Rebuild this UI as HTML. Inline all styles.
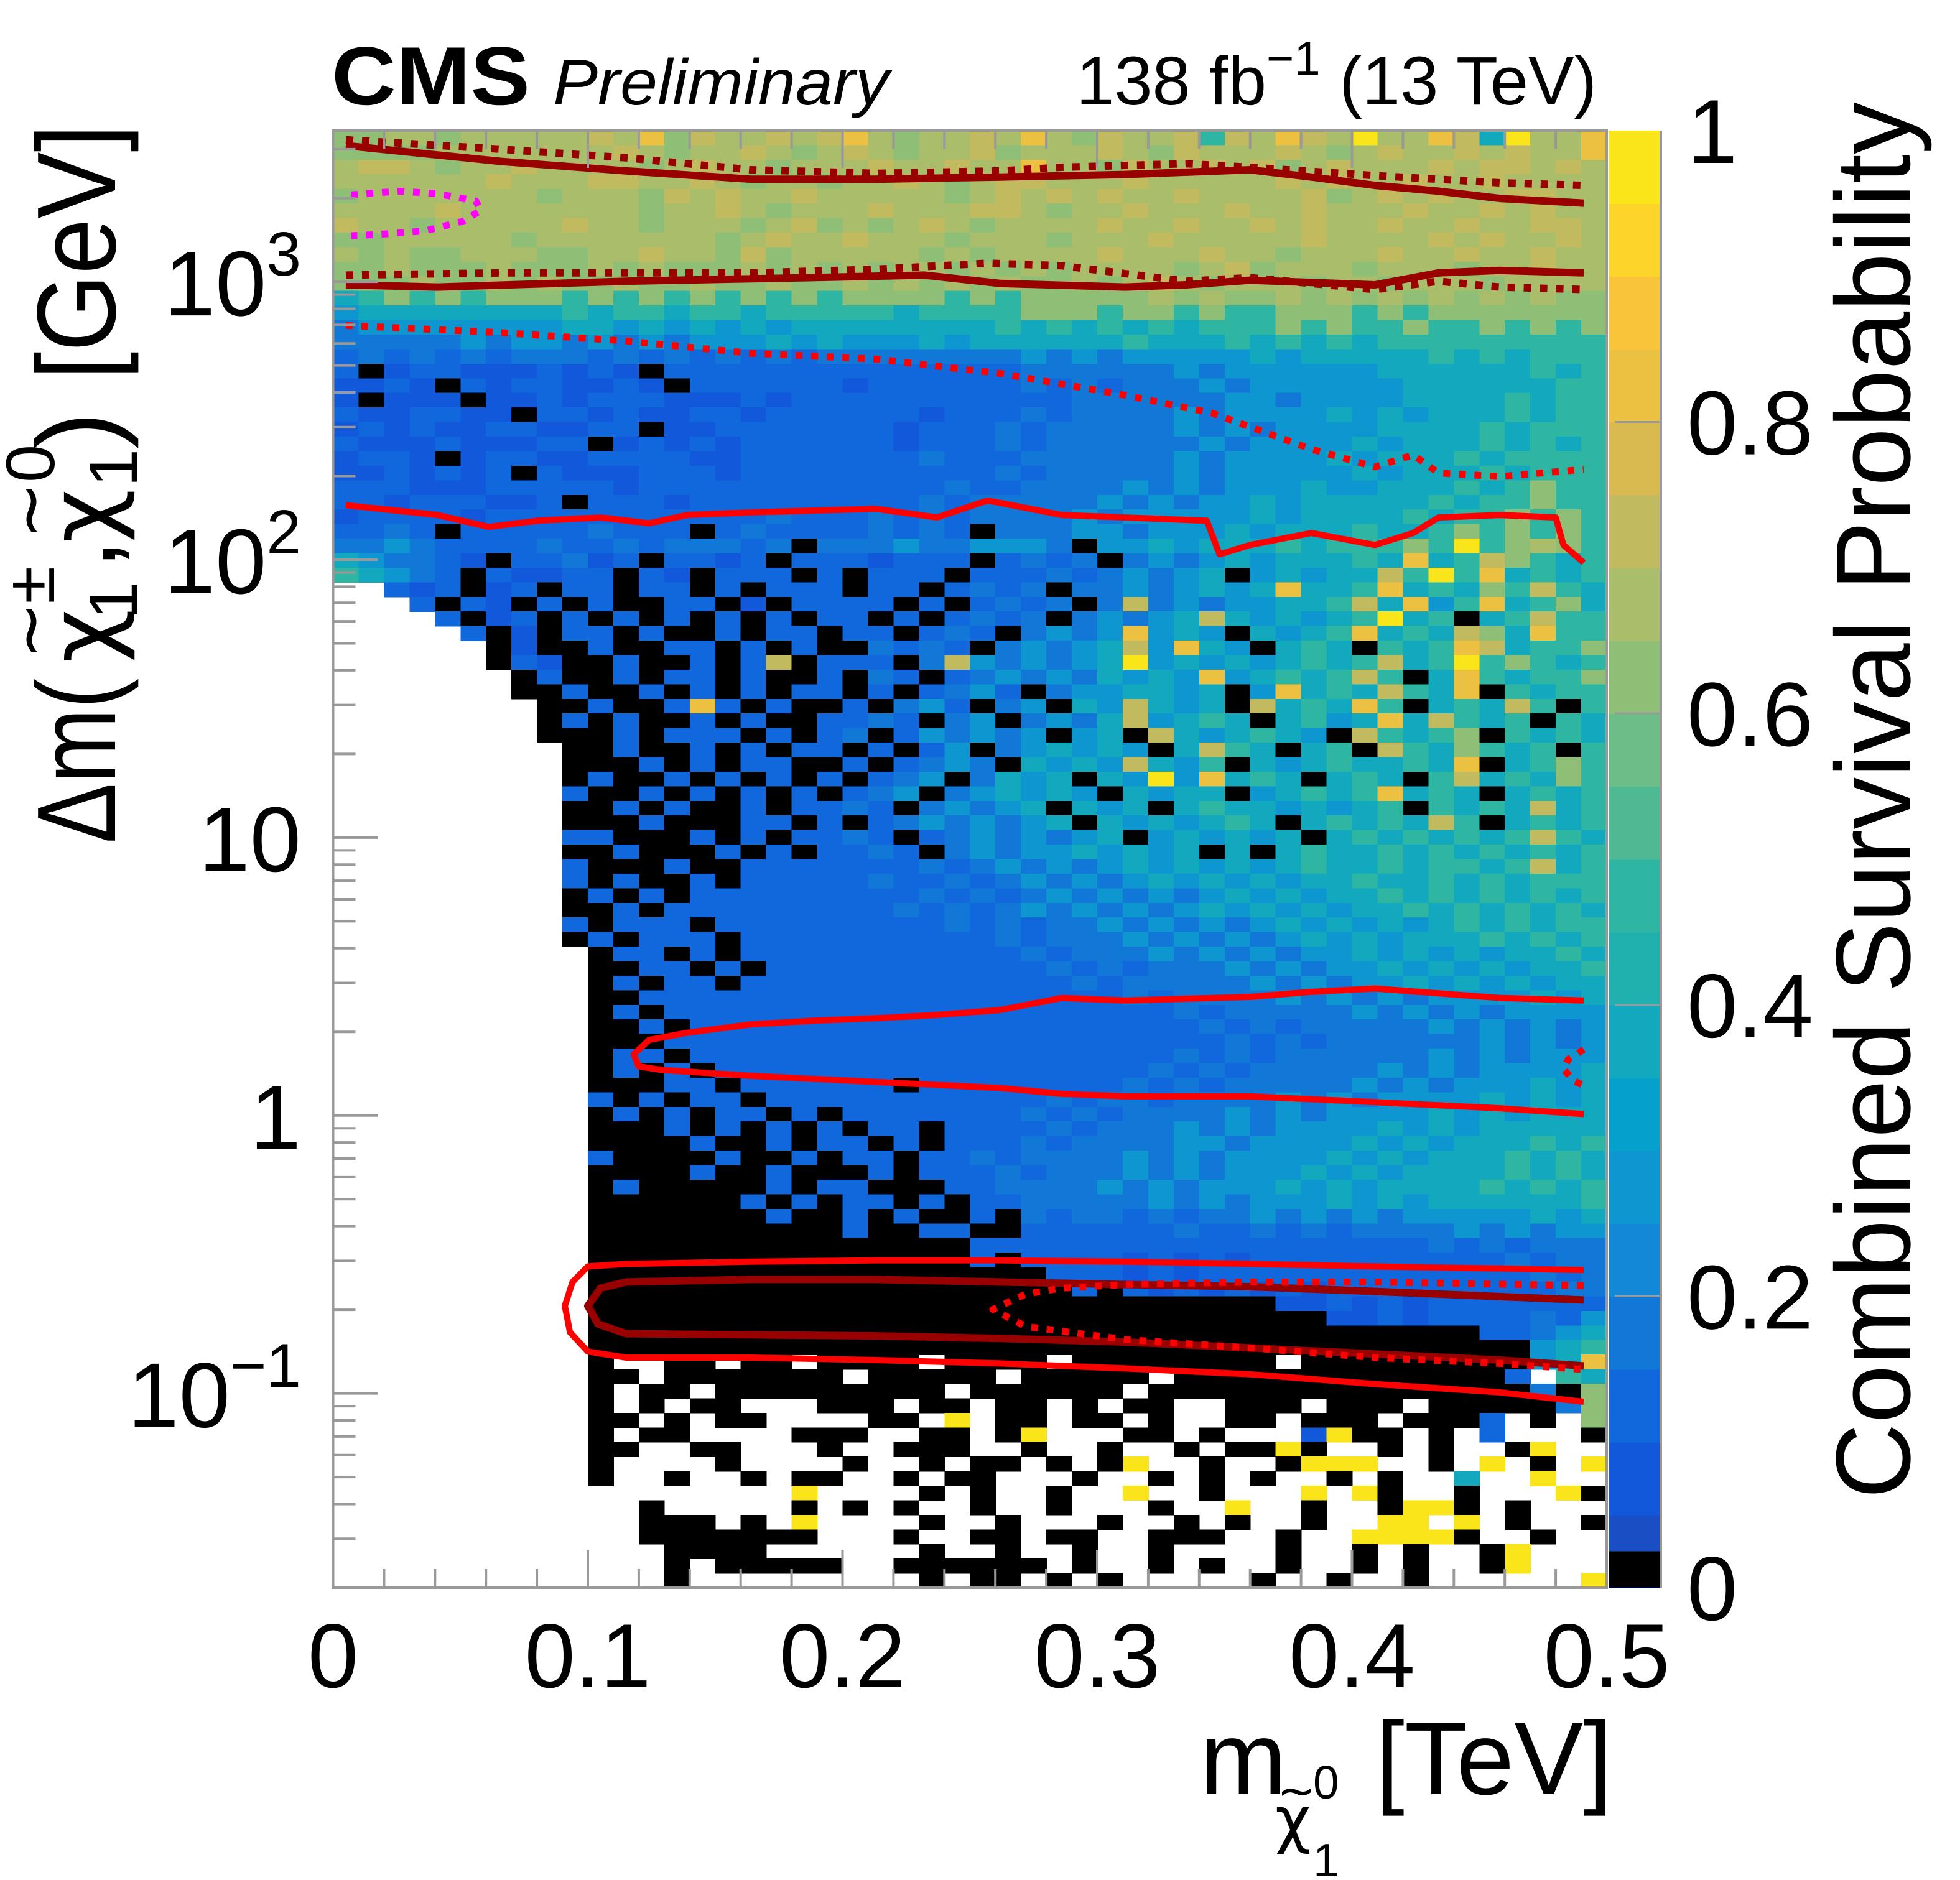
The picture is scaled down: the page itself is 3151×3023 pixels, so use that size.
<!DOCTYPE html>
<html><head><meta charset="utf-8"><title>CMS survival probability</title>
<style>
html,body{margin:0;padding:0;background:#fff;}
svg{display:block;font-family:"Liberation Sans",Arial,sans-serif;}
.gr{font-family:"DejaVu Sans","Liberation Sans",sans-serif;}
</style></head>
<body>
<svg id="chart" width="3151" height="3023" viewBox="0 0 3151 3023" xmlns="http://www.w3.org/2000/svg">
<rect width="3151" height="3023" fill="#fff"/>
<g id="heat" shape-rendering="crispEdges"></g>
<g id="contours" fill="none" stroke-linejoin="round"></g>
<g id="axes"></g>
<g id="cbar" shape-rendering="crispEdges"></g>

<text x="533" y="168" font-size="133" font-weight="bold" textLength="319" lengthAdjust="spacingAndGlyphs">CMS</text>
<text x="889" y="168" font-size="104" font-style="italic" textLength="540" lengthAdjust="spacingAndGlyphs">Preliminary</text>
<text x="2567" y="168" font-size="110" text-anchor="end">138 fb<tspan font-size="76" dy="-48">−1</tspan><tspan dy="48"> (13 TeV)</tspan></text>

<text x="2592" y="2885" font-size="167" text-anchor="end">[TeV]</text>
<text x="1929" y="2885" font-size="167">m</text>
<text class="gr" x="2050" y="2960" font-size="100">χ</text>
<text class="gr" x="2053" y="2905" font-size="75">~</text>
<text x="2111" y="2892" font-size="75">0</text>
<text x="2111" y="3017" font-size="75">1</text>

<g transform="translate(185,1356) rotate(-90)" font-size="180">
<text x="0" y="0" textLength="265" lengthAdjust="spacingAndGlyphs">Δm(</text>
<text class="gr" x="290" y="0" font-size="150">χ</text>
<text class="gr" x="296" y="-100" font-size="110">~</text>
<text x="360" y="35" font-size="110">1</text>
<text x="385" y="-98" font-size="110">±</text>
<text x="440" y="0">,</text>
<text class="gr" x="483" y="0" font-size="150">χ</text>
<text class="gr" x="489" y="-100" font-size="110">~</text>
<text x="573" y="35" font-size="110">1</text>
<text x="580" y="-98" font-size="110">0</text>
<text x="634" y="0">)</text>
<text x="746" y="0" textLength="410" lengthAdjust="spacingAndGlyphs">[GeV]</text>
</g>

<text transform="translate(3070,164) rotate(-90)" font-size="170" text-anchor="end" textLength="2246" lengthAdjust="spacingAndGlyphs">Combined Survival Probability</text>
</svg>
<script>
// ---------- data ----------
const xTickValues = [0, 0.1, 0.2, 0.3, 0.4, 0.5];
const xTickLabels = ["0", "0.1", "0.2", "0.3", "0.4", "0.5"];
const yTickValues = [0.1, 1, 10, 100, 1000];
const yTickBase = ["10", "1", "10", "10", "10"];
const yTickExp = ["−1", "", "", "2", "3"];
const zTickValues = [0, 0.2, 0.4, 0.6, 0.8, 1];
const zTickLabels = ["0", "0.2", "0.4", "0.6", "0.8", "1"];
const colorbarBands = ["#1a4ec4","#1158da","#1168dc","#1278d8","#1388d4","#0e96d0","#06a0cc","#12a8be","#20b1ae","#2fb6a2","#4fb994","#6dbd86","#8fbe76","#a9bd6a","#c2ba5e","#d8ba50","#ecc040","#fac43a","#fcd42a","#f9e51a"];
const levelChars = ["0","1","2","3","4","5","6","7","8","9","a","b","c"];
const levelValues = [0, 0.04, 0.08, 0.13, 0.18, 0.28, 0.37, 0.47, 0.62, 0.68, 0.73, 0.83, 0.98];
const survivalRows = [
"8899899999 a9b8a99a9a b9899a9b98 a99a7a9ba9 c99ba6c99b",
"8888999999 9a9899a989 a9899a8999 a98a999a98 9a99a9a99b",
"9aa9899a99 9989a99899 9a99a99b99 8a99a9a89a 999a9aa9a9",
"999999a999 aa99a98998 99a989aa99 9a99999a9a 99a99a9999",
"8999999989 998a9a99a9 999989a9a9 a99a9999a8 9a9a99aa99",
"9999a99999 99899a9899 9a999aa989 9a999a99a9 99a99a9a99",
"a99899999a 99899989a8 989a989999 a99a99a9a9 9a99a99aa9",
"8899999899 9999989a99 a999899989 99a99999a9 999a9a99a9",
"9898899988 99a998a899 9998989999 a999a99899 9a99a99a99",
"8898889888 9898889898 9899898989 99989a8999 8999899a99",
"8889889898 8988988988 9898989889 89a9899989 9899989999",
"6787878887 8787878787 8888787888 8898988989 8989898988",
"5666666667 6776776777 7767777888 7887877888 7878888888",
"4555555556 6565656566 6666667676 7676777878 7787787878",
"4444454554 5454555656 5556566666 6766676767 6777777777",
"3434343444 3434343434 4444444545 4555556566 6667676777",
"3023322232 3203333333 3333333444 4445455555 5666666767",
"2232032332 2320333333 2333333434 3444545555 5566666677",
"2022202232 3332223233 3333333334 4444455455 5566667677",
"3223322033 2322332333 3332333434 4445455556 5656667677",
"2323223322 3302233333 3323334344 4445454555 5666676777",
"3222322233 0232323333 3323334344 4444545555 6566676767",
"2332023322 3333223333 3334333444 4445455556 5666767777",
"2232323032 2233323333 3333334344 4445455555 6566676777",
"3332223333 3233333333 3333433444 4545455565 5666767877",
"3323332230 3332333333 3334344444 5454556566 6667677877",
"2333323333 3333333433 3434344445 4555556566 6676778787",
"3343033333 4333034333 3434304445 5455565666 7667878787",
"4454333343 3434443404 4454455540 5565666767 7787c78987",
"6544320334 2303323033 3233303434 0454565666 76b67a8767",
"7654303223 3032033303 0333033343 4545605656 6a7c7b6767",
"..32302303 3033030333 0330343404 4545656b66 7b67687a76",
"...3032030 3003302033 3303034340 4a45455667 a6b57b6786",
"....302303 0303030303 3030343404 5456a65656 7c67067a77",
".....30203 3030030330 3303430454 5b56506567 b676a86b77",
"......0200 3003303030 0434304545 6a5b650676 0767ba6778",
"......0320 0300303a03 3304a54545 6c56565676 7a67c78767",
".......030 0303303003 0430345454 6565b56767 a706b76778",
".......003 0030303033 0303453045 5665605b67 6a76b07677",
"........00 3003b30300 3045304506 5a6560a676 b70676a707",
"........03 0300303003 3430450454 6a56760675 6b6a767076",
"........00 0303330303 4035454505 60a6567650 a767807676",
".........0 0300303033 0303504565 6506a76067 0a76876707",
".........0 0030303300 3034540656 5a65706567 6676b06787",
".........0 3003030303 0345046560 65c5b67606 7607a67687",
".........3 0030303030 3450456565 0656605676 7b67606767",
".........0 0303003033 4304545606 5606766565 6707676a67",
".........0 0030003303 0345454560 6565676067 676a706767",
".........3 3000303033 4303454545 6056565606 7676767a76",
".........0 0300030303 3430454556 5656060676 6767676767",
".........3 0003003333 3334345454 5656565676 6767767a67",
".........3 0300303333 3433434545 4565656566 7667676777",
".........0 3030333333 3334343454 5454565656 6767676767",
".........0 0303333333 3343434545 4545656565 6676767676",
".........3 0333033333 3333434344 5454545656 5656767677",
".........0 3033303333 3333334344 4545454565 6566676767",
".......... 0330303333 3333333434 4454545455 6565656676",
".......... 0033030333 3333333343 4344454545 5656565667",
".......... 0303303333 3333333334 3444445454 5565656566",
".......... 0033333333 3333333333 3434444545 4545555656",
".......... 0303333333 3333333333 3334344444 5454545555",
".......... 0030333333 3333333333 3333434344 4445454545",
".......... 0003333333 3333333333 3333343434 4444454545",
".......... 0330333333 3333333333 3334343444 4445454555",
".......... 0303033333 3333333333 3343434444 4545455556",
".......... 0003303333 3303333333 3434344444 5454555656",
".......... 3030330333 3333333343 4434444545 4555565656",
".......... 0303033030 3333333434 3444454545 5556565666",
".......... 0003030303 0330333343 4445454555 5656566666",
".......... 0000300303 3030333434 4445545555 6565666767",
".......... 3000030030 3303343444 4545455556 5656667676",
".......... 0000300300 0303334344 4545455565 6566667676",
".......... 0300000303 3000334444 5454555656 5666676767",
".......... 0000003030 3303033444 4454545556 5656666667",
".......... 0000000300 3030030434 4343445454 5455555656",
".......... 0000000000 3003300333 3334334343 4444545455",
".......... 0000000000 0000033333 3333333333 3334343444",
".......... 0000000000 0000030333 3232323333 3333334344",
".......... 0000000000 0000000033 3232333333 3333333434",
".......... 0000000000 0000000003 0323232323 3333333344",
".......... 0000000000 0000000000 0000000223 2323333333",
".......... 0000000000 0000000000 0000000002 2323333435",
".......... 0000000000 0000000000 0000000000 0000033456",
".......... 0000000000 0000000000 0000000000 0000000567",
".......... 0..00.00.0 000.0000.0 0000000.00 000000056b",
".......... 00.0000000 .00000.000 00.0000000 0000003.76",
".......... 0.00.00000 0000.00000 0.00000000 0000000408",
".......... 0.0.00...0 00.00.00.0 .00..000.0 00.0000048",
".......... 00.0.00... .00.c.00.0 0.0..00.00 0.0003.0.8",
".......... 0.00....00 0..00.0c.. .00.0...2c 00.0.3...0",
".......... 00..00...0 ..000..0.. 0..0.00c0. .0.0..0c..",
".......... 0....0.... 0..0.00.0. 0c..0..0cc c..0.c.0.c",
".......... 0..0..0.00 ..0.00...0 ..0.0.0..0 .0..6..c..",
".......... ........c. ...0.0..0. .c..0...c. c0..0...c0",
".......... ..0.....0. 0.0..0..0. ..0..c..0. .0cc0.0...",
".......... ..000.0.c. ...0..0... 0..0.0..0. .cc.c.0..0",
".......... ..0000000. ..0..00.00 ..000..0.. cccc0..0..",
".......... ...0000... ...0..0..0 ..0....0.. 0.0..0c...",
".......... ...0.00000 ..000000.0 ..0.0..0.. 0.0..0c...",
".......... ...0...... ...0.00.0. 0.....0..0 ..0......c"
];
const obsUpperSolidX = [0.005,0.066,0.115,0.164,0.213,0.262,0.311,0.360,0.384,0.409,0.434,0.458,0.491];
const obsUpperSolidLog = [3.490,3.433,3.399,3.369,3.369,3.377,3.386,3.403,3.377,3.347,3.326,3.300,3.283];
const obsUpperDotX = [0.005,0.066,0.115,0.164,0.213,0.262,0.286,0.335,0.360,0.409,0.458,0.491];
const obsUpperDotLog = [3.511,3.477,3.446,3.403,3.390,3.399,3.412,3.425,3.412,3.382,3.356,3.347];
const obsLowerSolidX = [0.005,0.041,0.115,0.188,0.232,0.262,0.311,0.335,0.360,0.409,0.434,0.458,0.491];
const obsLowerSolidLog = [2.989,2.981,3.002,3.015,3.024,2.994,2.981,2.989,3.006,2.989,3.032,3.041,3.032];
const obsLowerDotX = [0.005,0.066,0.164,0.213,0.257,0.286,0.335,0.360,0.409,0.434,0.458,0.491];
const obsLowerDotLog = [3.024,3.032,3.032,3.045,3.067,3.058,3.002,3.015,2.972,3.002,2.981,2.972];
const magentaX = [0.007,0.026,0.041,0.056,0.058,0.051,0.036,0.017,0.007];
const magentaLog = [3.313,3.326,3.317,3.291,3.257,3.218,3.183,3.170,3.166];
const expUpperDotX = [0.005,0.066,0.115,0.164,0.213,0.262,0.311,0.345,0.384,0.409,0.424,0.434,0.458,0.491];
const expUpperDotLog = [2.843,2.817,2.787,2.743,2.722,2.670,2.592,2.528,2.398,2.334,2.377,2.312,2.299,2.325];
const expUpperSolidX = [0.005,0.041,0.061,0.080,0.105,0.124,0.139,0.164,0.213,0.237,0.257,0.286,0.311,0.343,0.348,0.360,0.384,0.409,0.424,0.434,0.458,0.480,0.483,0.491];
const expUpperSolidLog = [2.196,2.161,2.118,2.140,2.152,2.131,2.161,2.170,2.183,2.152,2.213,2.161,2.152,2.140,2.019,2.053,2.096,2.053,2.096,2.152,2.161,2.152,2.053,1.989];
const expMidSolidX = [0.491,0.458,0.409,0.384,0.360,0.311,0.286,0.262,0.237,0.213,0.188,0.164,0.139,0.124,0.118,0.120,0.129,0.164,0.213,0.262,0.286,0.311,0.360,0.409,0.458,0.491];
const expMidSolidLog = [0.414,0.423,0.457,0.445,0.427,0.414,0.423,0.380,0.362,0.350,0.341,0.328,0.298,0.272,0.220,0.177,0.164,0.143,0.121,0.099,0.078,0.069,0.069,0.048,0.026,0.005];
const expMidDotX = [0.491,0.485,0.483,0.487,0.491];
const expMidDotLog = [0.238,0.203,0.168,0.125,0.108];
const expLowerSolidX = [0.491,0.409,0.360,0.311,0.262,0.213,0.164,0.115,0.100,0.094,0.091,0.093,0.100,0.115,0.164,0.213,0.262,0.311,0.360,0.409,0.458,0.491];
const expLowerSolidLog = [-0.556,-0.543,-0.534,-0.526,-0.521,-0.521,-0.526,-0.534,-0.543,-0.599,-0.685,-0.780,-0.849,-0.871,-0.871,-0.880,-0.892,-0.910,-0.931,-0.966,-0.996,-1.030];
const obsLoopX = [0.491,0.409,0.360,0.311,0.262,0.213,0.164,0.115,0.105,0.100,0.104,0.115,0.164,0.213,0.262,0.311,0.360,0.409,0.458,0.491];
const obsLoopLog = [-0.664,-0.633,-0.616,-0.608,-0.599,-0.590,-0.590,-0.599,-0.621,-0.685,-0.750,-0.785,-0.789,-0.793,-0.802,-0.815,-0.836,-0.858,-0.880,-0.901];
const expLowerDotX = [0.491,0.409,0.360,0.311,0.286,0.272,0.259,0.272,0.311,0.360,0.409,0.458,0.491];
const expLowerDotLog = [-0.612,-0.599,-0.599,-0.608,-0.621,-0.642,-0.698,-0.759,-0.806,-0.836,-0.871,-0.892,-0.914];

// ---------- geometry ----------
const NS = "http://www.w3.org/2000/svg";
const PX0 = 535.5, PX1 = 2583, PY0 = 210, PY1 = 2553;
const xMin = 0, xMax = 0.5, yMin = 0.02, yMax = 3500;
const lgMin = Math.log10(yMin), lgMax = Math.log10(yMax);
function xs(v){ return PX0 + (v - xMin) / (xMax - xMin) * (PX1 - PX0); }
function ysLog(l){ return PY1 - (l - lgMin) / (lgMax - lgMin) * (PY1 - PY0); }
function ys(v){ return ysLog(Math.log10(v)); }
function colorOf(v){
  if (v < 0.025) return "#000000";
  let i = Math.floor(v / 0.05); if (i > 19) i = 19;
  return colorbarBands[i];
}
function mk(tag, attrs, parent){
  const e = document.createElementNS(NS, tag);
  for (const k in attrs) e.setAttribute(k, attrs[k]);
  parent.appendChild(e); return e;
}

// ---------- heatmap ----------
const heat = document.getElementById("heat");
const nRows = survivalRows.length, nCols = 50;
const dLog = (lgMax - lgMin) / nRows, dX = (xMax - xMin) / nCols;
for (let r = 0; r < nRows; r++) {
  let s = survivalRows[r].replace(/ /g, "");
  for (let c = 0; c < nCols; c++) {
    const ch = s[c] || ".";
    const k = levelChars.indexOf(ch);
    if (k < 0) continue;
    const v = levelValues[k];
    const x0 = xs(xMin + c * dX), x1 = xs(xMin + (c + 1) * dX);
    const yTop = ysLog(lgMax - r * dLog), yBot = ysLog(lgMax - (r + 1) * dLog);
    const rect = mk("rect", {x: x0.toFixed(1), y: yTop.toFixed(1), width: (x1 - x0 + 0.8).toFixed(1), height: (yBot - yTop + 0.8).toFixed(1), fill: colorOf(v)}, heat);
    
    
  }
}

// ---------- contours ----------
const cg = document.getElementById("contours");
function contour(xArr, lArr, color, width, dash, name){
  const pts = xArr.map((x, i) => xs(x).toFixed(1) + "," + ysLog(lArr[i]).toFixed(1)).join(" ");
  const pl = mk("polyline", {points: pts, stroke: color, "stroke-width": width}, cg);
  if (dash) pl.setAttribute("stroke-dasharray", dash);
  
  
}
contour(obsUpperSolidX, obsUpperSolidLog, "#990000", 12, null, "observed-upper-contour");
contour(obsUpperDotX, obsUpperDotLog, "#990000", 12, "12,14", "observed-upper-dotted-contour");
contour(obsLowerSolidX, obsLowerSolidLog, "#990000", 12, null, "observed-lower-contour");
contour(obsLowerDotX, obsLowerDotLog, "#990000", 12, "12,14", "observed-lower-dotted-contour");
contour(magentaX, magentaLog, "#ff00ff", 11, "11,14", "magenta-dotted-contour");
contour(expUpperDotX, expUpperDotLog, "#ff0000", 11, "11,14", "expected-upper-dotted-contour");
contour(expUpperSolidX, expUpperSolidLog, "#ff0000", 10, null, "expected-upper-contour");
contour(expMidSolidX, expMidSolidLog, "#ff0000", 10, null, "expected-middle-contour");
contour(expMidDotX, expMidDotLog, "#ff0000", 11, "11,14", "expected-middle-dotted-contour");
contour(expLowerSolidX, expLowerSolidLog, "#ff0000", 10, null, "expected-lower-contour");
contour(obsLoopX, obsLoopLog, "#990000", 12, null, "observed-lower-loop-contour");
contour(expLowerDotX, expLowerDotLog, "#ff0000", 11, "11,14", "expected-lower-dotted-contour");

// ---------- axes ----------
const ax = document.getElementById("axes");
const frame = mk("rect", {x: PX0, y: PY0, width: PX1 - PX0, height: PY1 - PY0, fill: "none", stroke: "#999", "stroke-width": 4}, ax);


for (let i = 0; i <= 25; i++) {
  const v = i * 0.02, x = xs(v);
  const major = (i % 5 === 0), L = major ? 60 : 30;
  const t1 = mk("line", {x1: x, x2: x, y1: PY1, y2: PY1 - L, stroke: "#999", "stroke-width": 4}, ax);
  
  
  const t2 = mk("line", {x1: x, x2: x, y1: PY0, y2: PY0 + L, stroke: "#999", "stroke-width": 4}, ax);
  
  
}
xTickValues.forEach((v, i) => {
  const t = mk("text", {x: xs(v), y: 2713, "font-size": 146, "text-anchor": "middle"}, ax);
  t.textContent = xTickLabels[i];
  
  
});
for (let d = -2; d <= 3; d++) {
  for (let m = 1; m <= 9; m++) {
    const v = m * Math.pow(10, d);
    if (v < yMin || v > yMax) continue;
    const y = ys(v), L = (m === 1) ? 72 : 36;
    const t = mk("line", {x1: PX0, x2: PX0 + L, y1: y, y2: y, stroke: "#999", "stroke-width": 4}, ax);
    
    
  }
}
yTickValues.forEach((v, i) => {
  const t = mk("text", {x: 484, y: ys(v) + 54, "font-size": 148, "text-anchor": "end"}, ax);
  t.textContent = yTickBase[i];
  if (yTickExp[i]) {
    const sp = mk("tspan", {"font-size": 100, dy: -64}, t);
    sp.textContent = yTickExp[i];
  }
  
  
});

// ---------- colour bar ----------
const cb = document.getElementById("cbar");
const CX0 = 2586, CX1 = 2668;
function zs(v){ return PY1 - v * (PY1 - PY0); }
colorbarBands.forEach((col, i) => {
  const lo = i * 0.05, hi = (i + 1) * 0.05;
  const r = mk("rect", {x: CX0, y: zs(hi), width: CX1 - CX0, height: zs(lo) - zs(hi) + 0.8, fill: col}, cb);
  
  
});
const blk = mk("rect", {x: CX0, y: zs(0.025), width: CX1 - CX0 + 2, height: zs(0) - zs(0.025), fill: "#000"}, cb);


const cbEdge = mk("line", {x1: CX1 + 2, x2: CX1 + 2, y1: PY0, y2: PY1, stroke: "#999", "stroke-width": 4}, cb);


zTickValues.forEach((v, i) => {
  if (v > 0 && v < 1) {
    const tl = mk("line", {x1: CX0 + 10, x2: CX1, y1: zs(v), y2: zs(v), stroke: "#999", "stroke-width": 3}, cb);
    
    
  }
  const t = mk("text", {x: 2712, y: zs(v) + 52, "font-size": 146}, cb);
  t.textContent = zTickLabels[i];
  
  
});
</script>
</body></html>
